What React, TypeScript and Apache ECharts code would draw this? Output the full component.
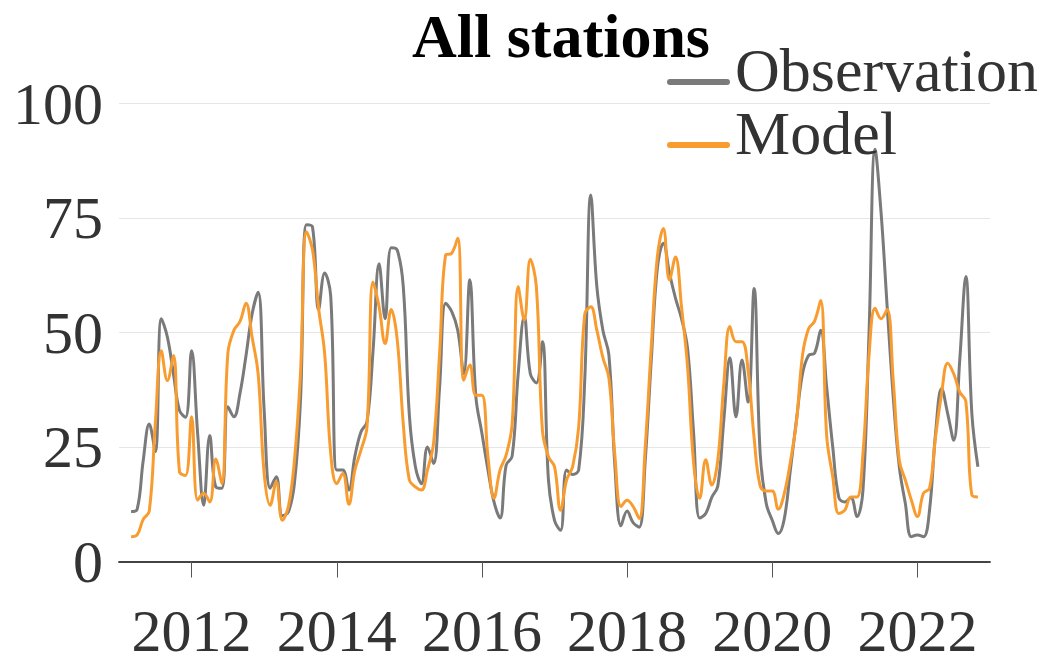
import React, { useEffect, useRef } from "react";
import * as echarts from "echarts";

// Monthly values, first month = March 2011, last month = November 2022
const startYear = 2011;
const startMonthIndex = 2; // March (0 = January)

const observation = [
  10.9, 11.4, 22, 30, 24, 53, 49, 41, 33, 31.5,
  46, 28, 12.3, 27.5, 16.3, 16, 33.8, 31.6, 36.7, 45, 54, 58.8,
  33, 16, 18.5, 10, 10.8, 17, 35, 73.5, 73, 55, 63, 58,
  20, 20, 15.6, 23, 28.3, 30.5, 46, 65, 53, 68.5, 68, 60,
  32, 20.7, 17, 25, 21.4, 38, 56.4, 54.6, 50.5, 41, 61.5, 36,
  28, 20, 13, 9.5, 21, 23, 41, 53.5, 41, 39, 48, 17.8,
  9, 6.8, 20, 19, 20, 39.6, 80, 60, 50.5, 45, 20.5, 7.8,
  11, 8.5, 7.5, 22, 44, 64, 69.5, 63, 57.5, 53, 46.5, 28,
  9.5, 10.5, 14, 16.5, 31, 44.5, 31.6, 44, 34.8, 59.6, 23.6, 12.7,
  9, 6.1, 9.4, 20, 30.9, 41, 45, 45.5, 50.5, 38, 25, 14,
  13, 14, 9.8, 15.6, 50, 90, 76, 55.6, 36, 20.7, 12.7, 5.4,
  5.8, 5.4, 11.2, 28, 37.8, 32.3, 26.5, 44, 62.2, 32.3, 20.7,
];

const model = [
  5.4, 5.8, 9.2, 11, 30, 46, 39.5, 45, 19.6, 18.8,
  31.6, 13.4, 14.9, 13, 22.4, 17, 45.5, 50.5, 52.4, 56.4, 49, 41,
  19.2, 12.3, 17.4, 9, 12, 22, 41, 72, 68, 55.3, 45.4, 23.6,
  17, 19.2, 12.5, 20, 24.3, 29.4, 61, 55.6, 47.6, 55, 48.4, 30,
  17.8, 16.3, 15.6, 20, 25.8, 45.4, 66.9, 67.3, 70.6, 39.6, 42.9, 36.3,
  36.3, 22.9, 13.8, 20, 23.2, 30, 60, 52.7, 66, 60, 28.7, 22.9,
  20.7, 11.2, 17.8, 20.7, 29.4, 54, 55.6, 50.5, 44.5, 40, 22.9, 12,
  13.4, 12, 9.4, 25, 46.9, 66.5, 72.7, 61.5, 66.5, 55.6, 42.5, 21.5,
  13.8, 22.2, 16.7, 22.2, 38.9, 51.3, 48, 48, 41.8, 27, 16.5, 15.4,
  15.4, 11.4, 14.9, 21.8, 30.5, 45, 50.8, 52.5, 57, 27.4, 18.5, 10.5,
  11.2, 14.1, 14.1, 23.6, 45, 55.3, 53, 55, 39.6, 22.1, 17.8, 13.4,
  9.8, 14.9, 16, 27.2, 36.7, 43.3, 41, 37, 35, 14.5, 14.1,
];

const xTickYears = [2012, 2014, 2016, 2018, 2020, 2022];
const yTicks = [0, 25, 50, 75, 100];

const FONT = "'Liberation Serif', 'Times New Roman', serif";
// legend icon: a tiny invisible speck on top so that the bar sits below the text centre
const LEGEND_ICON =
  "path://M0,0 L0.1,0 L0.1,0.1 L0,0.1 Z M3,24 L60,24 A3,3 0 0 1 60,30 L3,30 A3,3 0 0 1 3,24 Z";

function toPairs(values: number[]) {
  return values.map((v, i) => [startYear + (startMonthIndex + i) / 12, v]);
}

function legendItem(name: string, top: number) {
  return {
    data: [name],
    left: 667,
    top,
    padding: 0,
    itemWidth: 63,
    itemHeight: 30,
    icon: LEGEND_ICON,
    itemStyle: { borderWidth: 0 },
    textStyle: { fontFamily: FONT, fontSize: 62, color: "#333", lineHeight: 62 },
  };
}

export default function App() {
  const ref = useRef<HTMLDivElement>(null);
  useEffect(() => {
    if (!ref.current) return;
    const chart = echarts.init(ref.current, null, { renderer: "svg" });
    chart.setOption({
      animation: false,
      backgroundColor: "#ffffff",
      title: {
        text: "All stations",
        left: 561,
        top: 4,
        textAlign: "center",
        padding: 0,
        textStyle: { fontFamily: FONT, fontWeight: "bold", fontSize: 62, color: "#000", lineHeight: 64 },
      },
      legend: [legendItem("Observation", 39), legendItem("Model", 102)],
      grid: { left: 119, right: 57, top: 103.5, bottom: 97.5, outerBoundsMode: "none", containLabel: false },
      xAxis: {
        type: "value",
        min: 2011,
        max: 2023,
        splitLine: { show: false },
        axisLine: { show: true, lineStyle: { color: "#444", width: 1.8 } },
        axisTick: { show: true, customValues: xTickYears, length: 16, lineStyle: { color: "#555" } },
        axisLabel: {
          customValues: xTickYears,
          formatter: (v: number) => String(Math.round(v)),
          fontFamily: FONT,
          fontSize: 60,
          lineHeight: 20,
          color: "#333",
          margin: 59,
        },
      },
      yAxis: {
        type: "value",
        min: yTicks[0],
        max: yTicks[yTicks.length - 1],
        interval: 25,
        axisLine: { show: false },
        axisTick: { show: false },
        splitLine: { show: true, lineStyle: { color: "#e6e6e6", width: 1.2 } },
        axisLabel: {
          fontFamily: FONT,
          fontSize: 60,
          color: "#333",
          margin: 16,
          verticalAlign: "middle",
          lineHeight: 60,
          padding: [0, 0, 0, 0],
        },
      },
      series: [
        {
          name: "Observation",
          type: "line",
          data: toPairs(observation),
          smooth: 0.4,
          symbol: "none",
          showSymbol: false,
          lineStyle: { color: "#7a7a7a", width: 3 },
          itemStyle: { color: "#7a7a7a" },
        },
        {
          name: "Model",
          type: "line",
          data: toPairs(model),
          smooth: 0.4,
          symbol: "none",
          showSymbol: false,
          lineStyle: { color: "#f89c30", width: 3 },
          itemStyle: { color: "#f89c30" },
        },
      ],
    });
    return () => chart.dispose();
  }, []);
  return <div ref={ref} style={{ width: 1047, height: 659, position: "absolute", left: 0, top: 0 }} />;
}
